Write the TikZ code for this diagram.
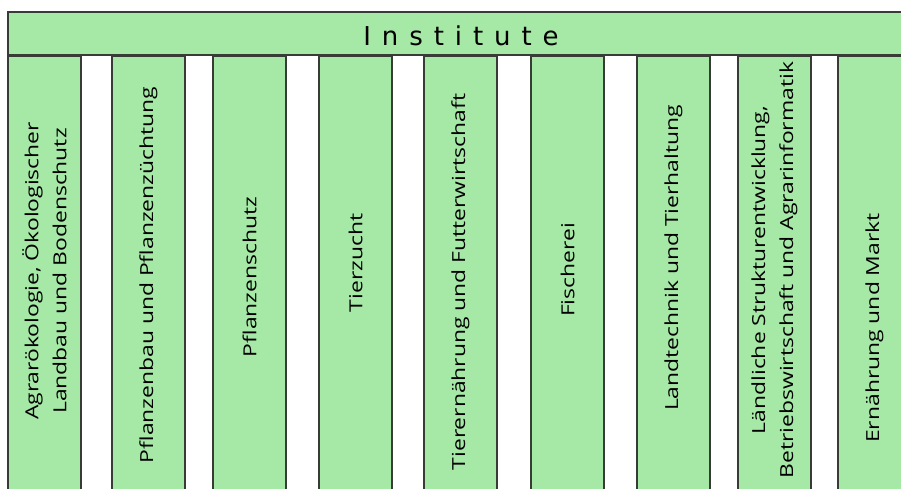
\documentclass[tikz,border=0pt]{standalone}
\usepackage{fontspec}
\setmainfont{Open Sans}
\newfontfamily\colfont[FakeStretch=1.27]{Open Sans}
\newfontfamily\titlefont[LetterSpace=42]{DejaVu Sans}
\usepackage{tikz}
\usetikzlibrary{positioning}

\definecolor{instgreen}{RGB}{166,232,166}
\definecolor{instline}{RGB}{55,60,55}

\tikzset{
  instbox/.style={draw=instline, fill=instgreen, line width=1.2pt},
  collabel/.style={rotate=90, align=center, text=black, font=\colfont\fontsize{18}{28}\selectfont}
}

\begin{document}
\begin{tikzpicture}[x=1pt,y=-1pt]
  % Define the dimensions of the columns
  \def\colWidth{73}
  \def\colTop{56}
  \def\colBottom{500}

  \useasboundingbox (0,0) rectangle (901,488);
  \clip (0,0) rectangle (901,488);

  % the header bar
  \draw[instbox] (8,12) rectangle (920,55);
  \node[font=\titlefont\fontsize{26}{26}\selectfont] (inst) at (461,36) {Institute};

  % the institute columns (name / left edge / text middle / text)
  \foreach \name/\xl/\ym/\label in {
      agrar/8/271/{Agrarökologie, Ökologischer\\Landbau und Bodenschutz},
      pflbau/112/275/{Pflanzenbau und Pflanzenzüchtung},
      pflschutz/213/277/{Pflanzenschutz},
      tierz/319/263/{Tierzucht},
      tiern/424/282/{Tierernährung und Futterwirtschaft},
      fisch/531/270/{Fischerei},
      landt/637/258/{Landtechnik und Tierhaltung},
      laendl/738/270/{Ländliche Strukturentwicklung,\\Betriebswirtschaft und Agrarinformatik},
      ernae/838/328/{Ernährung und Markt}} {
    \draw[instbox] (\xl,\colTop) rectangle ++(\colWidth,\colBottom-\colTop);
    \node[collabel] (\name) at (\xl+\colWidth/2,\ym) {\label};
  }
\end{tikzpicture}
\end{document}
